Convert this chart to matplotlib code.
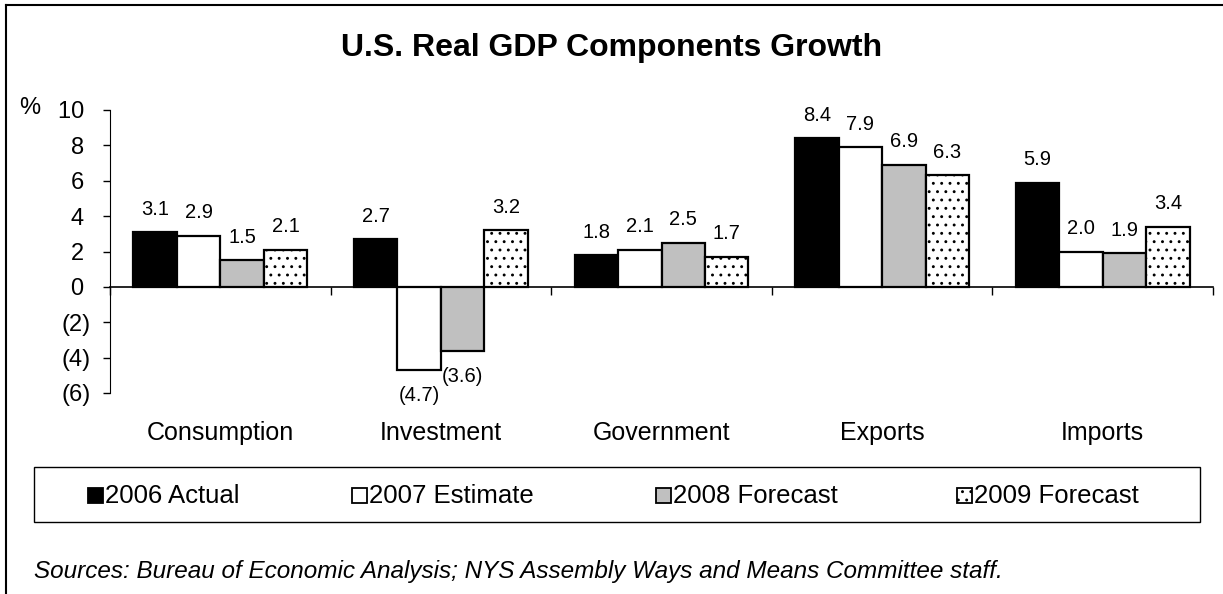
import numpy as np
import matplotlib
matplotlib.use("Agg")
import matplotlib.pyplot as plt
from matplotlib.lines import Line2D
from matplotlib.patches import Rectangle
from matplotlib.transforms import blended_transform_factory

plt.rcParams["font.family"] = ["Liberation Sans", "DejaVu Sans"]
plt.rcParams["hatch.linewidth"] = 0.9

# ── data ─────────────────────────────────────────────
categories = ["Consumption", "Investment", "Government", "Exports", "Imports"]
series = ["2006 Actual", "2007 Estimate", "2008 Forecast", "2009 Forecast"]
v2006 = [3.1, 2.7, 1.8, 8.4, 5.9]
v2007 = [2.9, -4.7, 2.1, 7.9, 2.0]
v2008 = [1.5, -3.6, 2.5, 6.9, 1.9]
v2009 = [2.1, 3.2, 1.7, 6.3, 3.4]
yticks = [-6, -4, -2, 0, 2, 4, 6, 8, 10]

values = [v2006, v2007, v2008, v2009]
faces = ["black", "white", "#c0c0c0", "white"]
hatches = [None, None, None, ".."]

W, H = 1223, 594
def fx(px): return px / W
def fy(py): return 1 - py / H

def fmt(v):
    return f"({abs(v):.1f})" if v < 0 else f"{v:.1f}"

fig = plt.figure(figsize=(W/100, H/100), dpi=100)
ax = fig.add_axes([fx(110), fy(393), 1103/W, 283/H])

x = np.arange(len(categories)) + 0.5
w = 0.197
for i, (vals, fc, h) in enumerate(zip(values, faces, hatches)):
    xs = x + (i - 1.5) * w
    bars = ax.bar(xs, vals, w, color=fc, edgecolor="black", linewidth=1.6,
                  hatch=h, zorder=3)
    for b, v in zip(bars, vals):
        off = 16.5 if v >= 0 else -18.5
        ax.annotate(fmt(v), (b.get_x() + b.get_width()/2, v),
                    textcoords="offset points", xytext=(0, off),
                    ha="center", va="center", fontsize=14.5)

ax.set_xlim(0, len(categories))
ax.set_ylim(-6, 10)
ax.set_yticks(yticks)
# positive labels get a trailing pad so digits line up with the "(n)" labels
ax.set_yticklabels([fmt(t).replace(".0", "") + ("" if t < 0 else " ") for t in yticks],
                   fontsize=17)
ax.tick_params(axis="y", direction="out", length=5, width=1, pad=9)
ax.spines["bottom"].set_position(("data", 0))
ax.spines["bottom"].set_linewidth(1.2)
ax.spines["bottom"].set_zorder(4)
ax.set_xticks(np.arange(len(categories) + 1))
ax.set_xticklabels([])
ax.tick_params(axis="x", direction="out", length=6, width=1)
for s in ["top", "right"]:
    ax.spines[s].set_visible(False)
cat_tr = blended_transform_factory(ax.transData, fig.transFigure)
for cx, c in zip(x, categories):
    ax.text(cx, fy(440), c, transform=cat_tr,
            ha="center", va="baseline", fontsize=18)

fig.text(fx(19), fy(108), "%", ha="left", va="center", fontsize=17)
fig.text(0.5, fy(56), "U.S. Real GDP Components Growth",
         ha="center", va="baseline", fontsize=23, fontweight="bold")

# legend box with four entries
fig.add_artist(Rectangle((fx(34), fy(522)), 1166/W, 55/H,
                         transform=fig.transFigure, fill=False,
                         edgecolor="black", linewidth=1))
leg_x = [88, 352, 656, 957]
for lx, name, fc, h in zip(leg_x, series, faces, hatches):
    fig.add_artist(Rectangle((fx(lx), fy(503)), 15/W, 15/H,
                             transform=fig.transFigure, facecolor=fc,
                             edgecolor="black", linewidth=1.3, hatch=h))
    fig.text(fx(lx + 17), fy(503), name, ha="left", va="baseline", fontsize=18.5)

fig.text(fx(34), fy(578),
         "Sources: Bureau of Economic Analysis; NYS Assembly Ways and Means Committee staff.",
         ha="left", va="baseline", fontsize=17.5, style="italic")

# outer frame (left and top edges)
fig.add_artist(Line2D([fx(6), fx(6)], [0, fy(5)], transform=fig.transFigure,
                      color="black", linewidth=1.5))
fig.add_artist(Line2D([fx(6), 1], [fy(5), fy(5)], transform=fig.transFigure,
                      color="black", linewidth=1.5))

plt.savefig("out.png", dpi=100)
